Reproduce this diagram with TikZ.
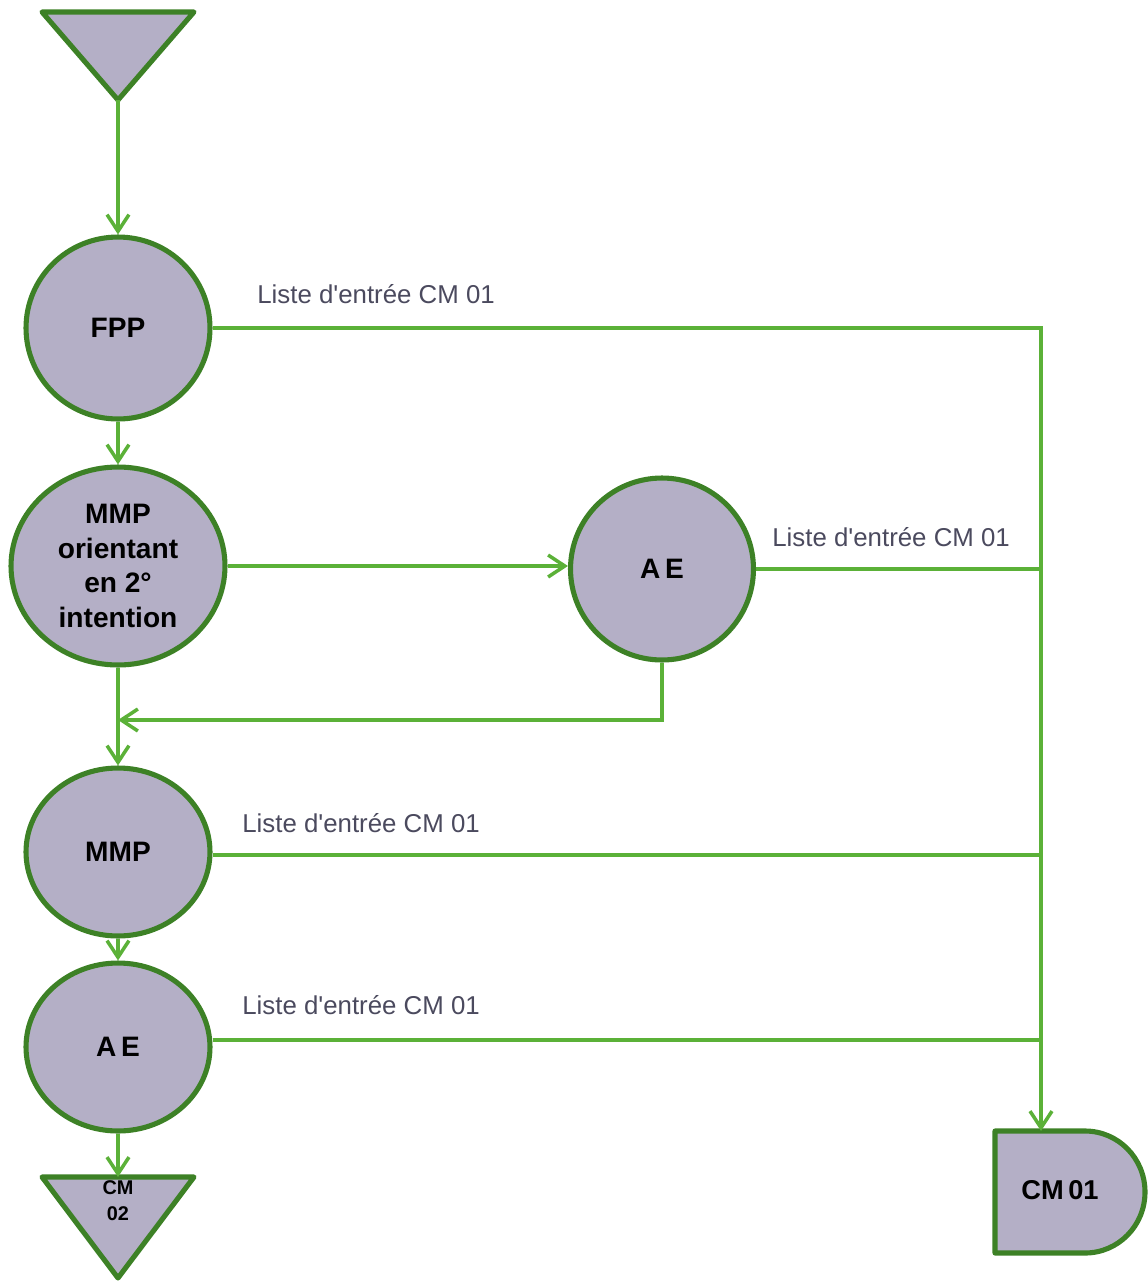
\documentclass[tikz,border=0pt]{standalone}
\usepackage{fontspec}
\setmainfont{Liberation Sans}
\usetikzlibrary{shapes.geometric, arrows.meta, calc}
\definecolor{nodefill}{HTML}{B4AFC6}
\definecolor{nodeline}{HTML}{3D8126}
\definecolor{linkgreen}{HTML}{5BB138}
\definecolor{labelgray}{HTML}{4B4A5E}
\begin{document}
\begin{tikzpicture}[x=0.02cm, y=-0.02cm,
        step node/.style={draw=nodeline, fill=nodefill, line width=2.9pt, ellipse, inner sep=0pt,
            font=\fontsize{16}{19.8}\selectfont\bfseries, align=center},
        link/.style={draw=linkgreen, line width=2pt},
        flow/.style={link, -{Straight Barb[length=9.5pt, width=12.5pt, line width=2pt]}},
        liste/.style={anchor=west, text=labelgray, font=\fontsize{14.7}{17}\selectfont, inner sep=0pt}]
        \useasboundingbox (0,0) rectangle (1147,1282);
        % start and end triangles
        \draw [draw=nodeline, fill=nodefill, line width=2.9pt, line join=round] (42,12) -- (194,12) -- (118,100) -- cycle;
        \draw [draw=nodeline, fill=nodefill, line width=2.9pt, line join=round] (42,1177) -- (194,1177) -- (118,1278) -- cycle;
        \coordinate (top) at (118,100);
        \coordinate (bot) at (118,1177);
        \node [font=\fontsize{11.3}{14.7}\selectfont\bfseries, align=center] (CMb) at (118,1201) {CM\\02};
        % CM 01 store
        \draw [draw=nodeline, fill=nodefill, line width=2.9pt, line join=round]
            (995,1131) -- (1085,1131) .. controls (1118,1131) and (1145,1158) .. (1145,1192)
            .. controls (1145,1226) and (1118,1253) .. (1085,1253) -- (995,1253) -- cycle;
        \node [font=\fontsize{15.5}{18}\selectfont\bfseries] (CMa) at (1060,1190) {CM\,01};
        \coordinate (cmtop) at (1041,1131);
        % steps
        \node [step node, minimum width=3.68cm, minimum height=3.64cm] (FPP) at (118,328) {FPP};
        \node [step node, minimum width=4.28cm, minimum height=3.96cm] (MMPo) at (118,566) {MMP\\orientant\\en 2°\\intention};
        \node [step node, minimum width=3.66cm, minimum height=3.64cm] (AEa) at (662,569) {A\,E};
        \node [step node, minimum width=3.68cm, minimum height=3.36cm] (MMP) at (118,852) {MMP};
        \node [step node, minimum width=3.68cm, minimum height=3.36cm] (AEb) at (118,1047) {A\,E};
        % junctions on the right
        \coordinate (j1) at (1041,569);
        \coordinate (j2) at (1041,855);
        \coordinate (j3) at (1041,1040);
        \coordinate (back) at (118,720);
        % connectors
        \draw [flow] (top) -- (FPP);
        \draw [flow] (FPP) -- (MMPo);
        \draw [flow] (MMPo.east) -- (MMPo.east -| AEa.west);
        \draw [flow] (AEa) |- (back);
        \draw [flow] (MMPo) -- (MMP);
        \draw [flow] (MMP) -- (AEb);
        \draw [flow] (AEb) -- (bot);
        \draw [flow] (FPP) -| (cmtop);
        \draw [link] (AEa) -- (j1);
        \draw [link] (MMP.east |- j2) -- (j2);
        \draw [link] (AEb.east |- j3) -- (j3);
        % labels
        \node [liste] (l1) at (257,294) {Liste d\textquotesingle entrée CM 01};
        \node [liste] (l2) at (772,537) {Liste d\textquotesingle entrée CM 01};
        \node [liste] (l3) at (242,823) {Liste d\textquotesingle entrée CM 01};
        \node [liste] (l4) at (242,1005) {Liste d\textquotesingle entrée CM 01};
    \end{tikzpicture}
\end{document}
